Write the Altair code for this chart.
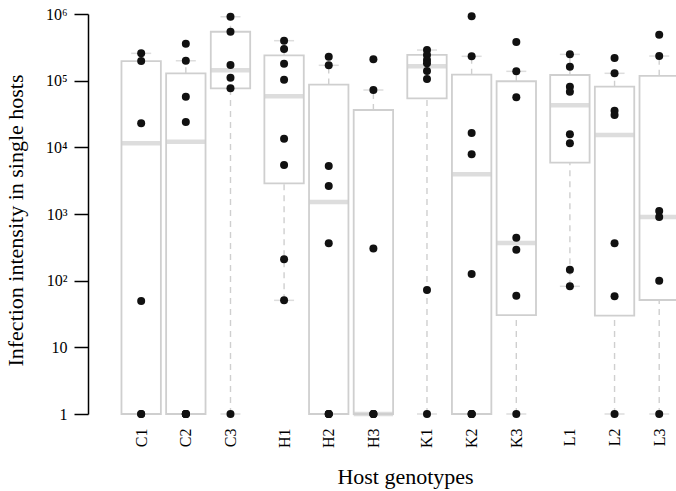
import altair as alt
import pandas as pd

# ---- data ----
genotypes = ["C1", "C2", "C3", "H1", "H2", "H3", "K1", "K2", "K3", "L1", "L2", "L3"]
groups = ["C", "C", "C", "H", "H", "H", "K", "K", "K", "L", "L", "L"]
group_order = ["C", "H", "K", "L"]

# box statistics (lower whisker, lower hinge, median, upper hinge, upper whisker)
whisk_lo = [1, 1, 1, 50.7, 1, 1, 1, 1, 1, 82.3, 1, 1]
hinge_lo = [1, 1, 76800, 2880, 1, 1, 54300, 1, 30.5, 5890, 29.8, 51.3]
medians = [11500, 12100, 143000, 58200, 1510, 1, 164000, 3940, 367, 42700, 15300, 900]
hinge_hi = [197000, 129000, 542000, 240000, 87500, 36300, 243000, 123000, 98000, 121600, 81300, 118000]
whisk_hi = [257000, 199000, 910000, 398000, 170000, 72400, 288000, 232000, 138000, 248000, 129000, 234000]

# individual hosts
points = {
    "C1": [257000, 197000, 22900, 49.5, 1, 1],
    "C2": [359000, 199000, 57500, 24000, 1, 1, 1, 1],
    "C3": [910000, 542000, 172000, 111000, 76800, 1],
    "H1": [398000, 298000, 180000, 103000, 13500, 5430, 209, 50.7],
    "H2": [229000, 170000, 5270, 2640, 363, 1, 1, 1],
    "H3": [209000, 72400, 305, 1, 1, 1],
    "K1": [288000, 243000, 204000, 182000, 140000, 106000, 72.4, 1],
    "K2": [923000, 232000, 16400, 7850, 126, 1, 1, 1],
    "K3": [381000, 138000, 56500, 441, 292, 59.5, 1],
    "L1": [248000, 162000, 81300, 68300, 15700, 11500, 146, 82.3],
    "L2": [219000, 129000, 35500, 30500, 363, 58.2, 1],
    "L3": [490000, 234000, 1110, 902, 100, 1],
}

y_ticks = [1, 10, 100, 1000, 10000, 100000, 1000000]
y_tick_labels = ["1", "10", "10\u00b2", "10\u00b3", "10\u2074", "10\u2075", "10\u2076"]

# ---- layout: genotypes at 1, 2, 3, then a small extra gap between host groups ----
GROUP_GAP = 0.2
positions = [round(i + 1 + GROUP_GAP * group_order.index(groups[i]), 1) for i in range(len(genotypes))]

rows = []
for i, g in enumerate(genotypes):
    rows.append(dict(kind="box", genotype=g, pos=positions[i], lo=whisk_lo[i], q1=hinge_lo[i],
                     med=medians[i], q3=hinge_hi[i], hi=whisk_hi[i], value=None))
    for v in points[g]:
        rows.append(dict(kind="pt", genotype=g, pos=positions[i], value=v))
df = pd.DataFrame(rows)

GRAY = "#cfcfcf"
FONT = "Liberation Serif"

ylab_map = "{" + ",".join(f"'{t}':'{l}'" for t, l in zip(y_ticks, y_tick_labels)) + "}"
xlab_map = "{" + ",".join(f"'{p:g}':'{g}'" for p, g in zip(positions, genotypes)) + "}"

yscale = alt.Scale(type="log", domain=[1, 1000000], nice=False)
yaxis = alt.Axis(values=y_ticks, labelExpr=ylab_map + "[datum.value]",
                 title="Infection intensity in single hosts",
                 titleFont=FONT, titleFontSize=22, titleFontWeight="normal",
                 titleColor="black", titleAngle=270, titleAlign="center",
                 titleBaseline="alphabetic", titleX=-66, titleY=206,
                 labelFont=FONT, labelFontSize=16, labelColor="black",
                 labelPadding=7, tickSize=14, tickColor="black", tickWidth=1.5,
                 domainColor="black", domainWidth=1.5, grid=False)

xscale = alt.Scale(domain=[-0.0786, 12.864], nice=False, zero=False)
xaxis = alt.Axis(values=positions, labelExpr=xlab_map + "[datum.value]",
                 title="Host genotypes", titleFont=FONT, titleFontSize=22,
                 titleFontWeight="normal", titleColor="black",
                 titleX=317, titleY=69, titleAlign="center", titleBaseline="alphabetic",
                 domain=False, ticks=False, grid=False, labelAngle=270,
                 labelPadding=14, labelFontSize=16, labelFont=FONT, labelColor="black")


def X():
    return alt.X("pos:Q", scale=xscale, axis=xaxis)


def Y(field):
    return alt.Y(field, scale=yscale, axis=yaxis)


base = alt.Chart(df)
boxes = base.transform_filter(alt.datum.kind == "box")
pts = base.transform_filter(alt.datum.kind == "pt")

whisk_up = boxes.mark_rule(color=GRAY, strokeWidth=1.4, strokeDash=[6, 5]).encode(
    x=X(), y=Y("q3:Q"), y2="hi:Q")
whisk_dn = boxes.mark_rule(color=GRAY, strokeWidth=1.4, strokeDash=[6, 5]).encode(
    x=X(), y=Y("lo:Q"), y2="q1:Q")
cap_up = boxes.mark_tick(color=GRAY, size=20, thickness=1.5, orient="horizontal").encode(
    x=X(), y=Y("hi:Q"))
cap_dn = boxes.mark_tick(color=GRAY, size=20, thickness=1.5, orient="horizontal").encode(
    x=X(), y=Y("lo:Q"))
box = boxes.mark_bar(fill="white", stroke=GRAY, strokeWidth=1.8, size=39.4).encode(
    x=X(), y=Y("q1:Q"), y2="q3:Q")
med = boxes.mark_tick(color=GRAY, size=39.4, thickness=4.5, orient="horizontal").encode(
    x=X(), y=Y("med:Q"))
dots = pts.mark_circle(color="#111111", size=64, opacity=1).encode(x=X(), y=Y("value:Q"))

chart = alt.layer(whisk_up, whisk_dn, cap_up, cap_dn, box, med, dots).properties(
    width=588, height=400,
    autosize=alt.AutoSizeParams(type="none"),
    padding={"left": 88, "top": 14, "right": 0, "bottom": 77},
    background="white",
).configure_view(stroke=None)

chart.save("out.html", embed_options={"renderer": "svg", "actions": False})
